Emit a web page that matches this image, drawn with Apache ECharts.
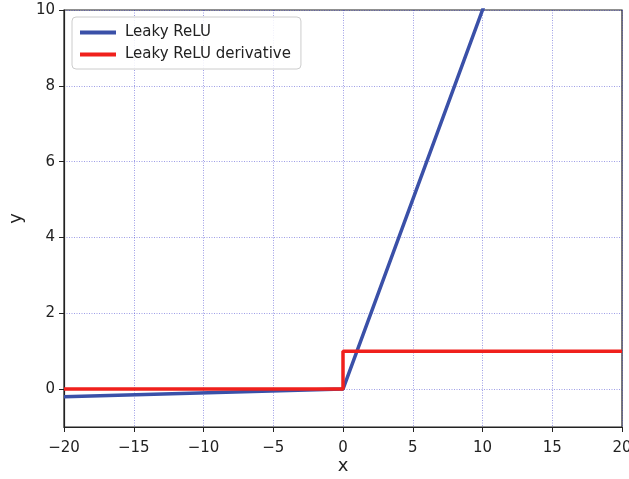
<!DOCTYPE html>
<html>
<head>
<meta charset="utf-8">
<script src="https://cdn.jsdelivr.net/npm/echarts@6/dist/echarts.min.js"></script>
<style>
  html, body { margin: 0; padding: 0; background: #fff; }
  #chart { width: 629px; height: 479px; }
</style>
</head>
<body>
<div id="chart"></div>
<script>
// x samples and values
const xs = [-20, 0, 20]
const reluVals = [-0.2, 0, 20]
const derivVals = [0, 1, 1]
const xTicks = [-20, -15, -10, -5, 0, 5, 10, 15, 20]
const yTicks = [0, 2, 4, 6, 8, 10]

const minus = v => String(v).replace('-', '\u2212')
const font = 'DejaVu Sans'

const chart = echarts.init(document.getElementById('chart'))

const gridLine = { show: true, lineStyle: { color: 'rgba(40,40,200,0.45)', type: [1, 1.5], width: 1 } }

const option = {
    animation: false,
    grid: {
        left: 64, right: 7, top: 10, bottom: 52,
        outerBoundsMode: 'none',
        show: true, borderColor: '#222', borderWidth: 1.2
    },
    legend: {
        orient: 'vertical',
        left: 72, top: 17,
        padding: [8, 10, 7, 8],
        itemGap: 7,
        itemWidth: 36, itemHeight: 4,
        icon: 'rect',
        borderColor: '#ccc', borderWidth: 1, borderRadius: 4,
        backgroundColor: 'rgba(255,255,255,0.85)',
        textStyle: { fontFamily: font, fontSize: 15, color: '#222', padding: [0, 0, 0, 4] },
        data: ['Leaky ReLU', 'Leaky ReLU derivative']
    },
    xAxis: {
        type: 'value', min: xTicks[0], max: xTicks[xTicks.length - 1], interval: 5,
        name: 'x', nameLocation: 'middle', nameGap: 30, nameMoveOverlap: false,
        nameTextStyle: { fontFamily: font, fontSize: 18, color: '#222' },
        axisLine: { show: true, onZero: false, lineStyle: { color: '#222', width: 1.2 } },
        axisTick: { show: true, inside: false, length: 5, lineStyle: { color: '#222' } },
        axisLabel: { fontFamily: font, fontSize: 15, color: '#222', margin: 14, formatter: minus },
        splitLine: gridLine
    },
    yAxis: {
        type: 'value', min: -1, max: yTicks[yTicks.length - 1],
        name: 'y', nameLocation: 'middle', nameGap: 38,
        nameTextStyle: { fontFamily: font, fontSize: 18, color: '#222' },
        axisLine: { show: true, onZero: false, lineStyle: { color: '#222', width: 1.2 } },
        axisTick: { show: true, inside: false, length: 5, lineStyle: { color: '#222' }, customValues: yTicks },
        axisLabel: { fontFamily: font, fontSize: 15, color: '#222', margin: 9, formatter: minus, customValues: yTicks },
        splitLine: gridLine
    },
    series: [
        {
            name: 'Leaky ReLU', type: 'line', showSymbol: false, clip: true,
            color: '#3a50a8',
            lineStyle: { width: 3.5, color: '#3a50a8' },
            data: xs.map((x, i) => [x, reluVals[i]])
        },
        {
            name: 'Leaky ReLU derivative', type: 'line', showSymbol: false, clip: true,
            step: 'end',
            color: '#f0201c',
            lineStyle: { width: 3.5, color: '#f0201c' },
            data: xs.map((x, i) => [x, derivVals[i]])
        }
    ]
}

chart.setOption(option)
</script>
</body>
</html>
